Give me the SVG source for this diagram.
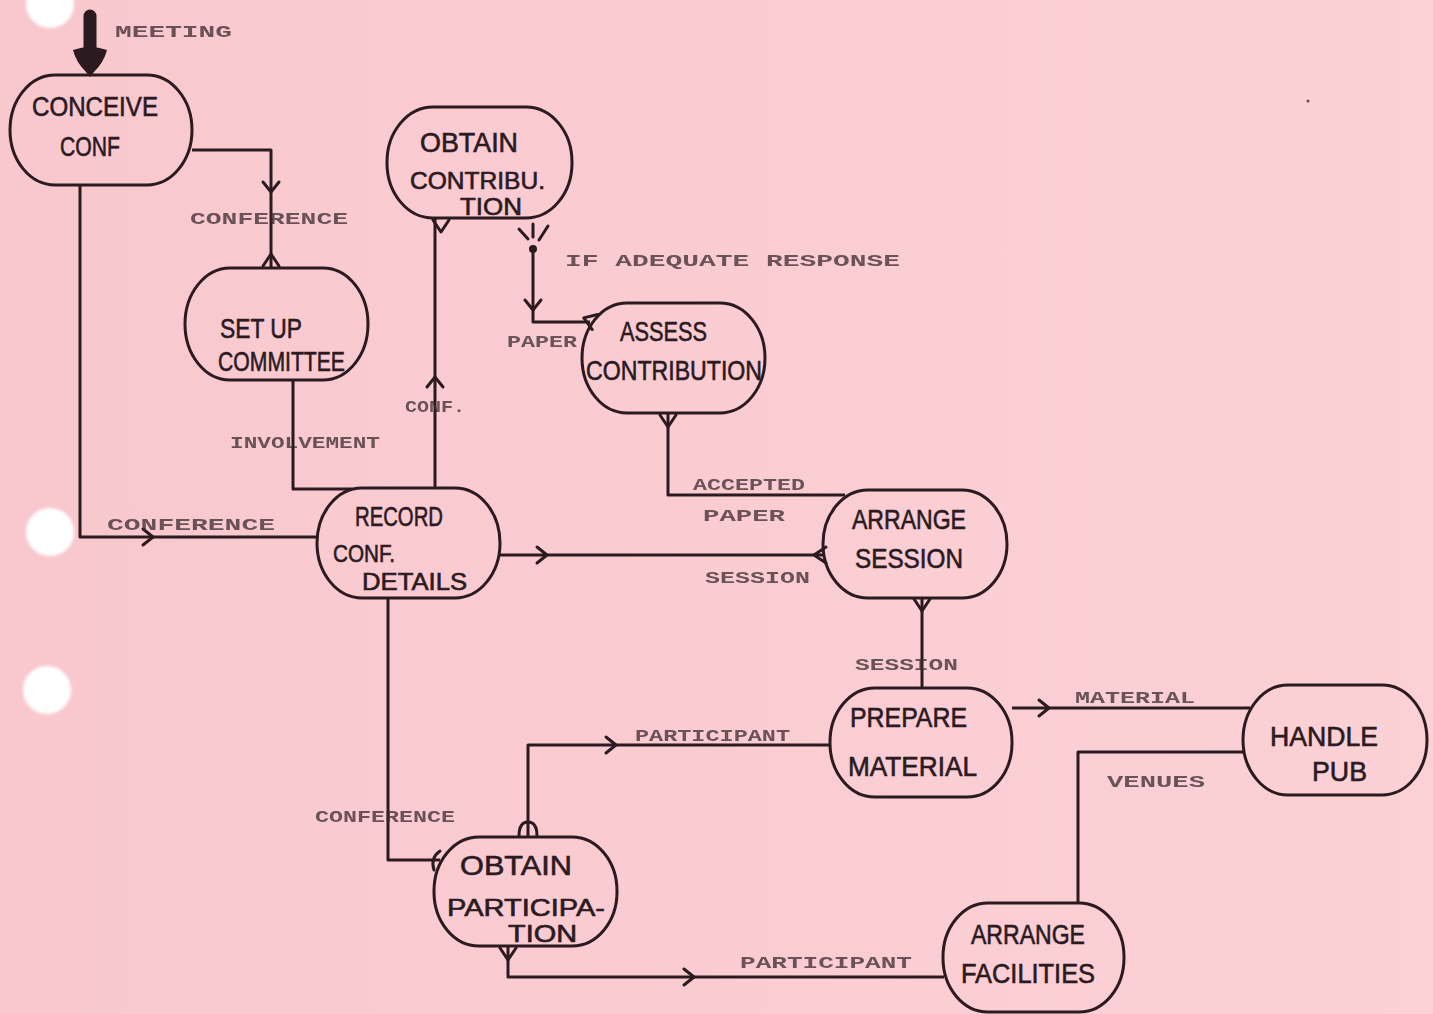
<svg xmlns="http://www.w3.org/2000/svg" width="1433" height="1014" viewBox="0 0 1433 1014">
  <style>
    .node rect { fill: none; stroke: #2b1a1f; stroke-width: 3; }
    .node text { font-family: "Liberation Sans", "DejaVu Sans", sans-serif; font-size: 27px; fill: #2b1a1f; stroke: #2b1a1f; stroke-width: 0.6; }
    .node text.sm { font-size: 23px; }
    .wire { fill: none; stroke: #2b1a1f; stroke-width: 3; stroke-linejoin: round; }
    .tip { fill: none; stroke: #2b1a1f; stroke-width: 3; stroke-linecap: round; stroke-linejoin: round; }
    .lbl { font-family: "Liberation Mono", "DejaVu Sans Mono", monospace; font-size: 17px; font-weight: bold; fill: #3a2a2f; opacity: 0.75; }
    .hole { fill: #ffffff; }
  </style>
  <defs>
    <linearGradient id="paper" x1="0" y1="0" x2="1" y2="0">
      <stop offset="0" stop-color="#f9c8cf"/>
      <stop offset="1" stop-color="#fbd1d6"/>
    </linearGradient>
    <filter id="soft" x="-20%" y="-20%" width="140%" height="140%">
      <feGaussianBlur stdDeviation="1.5"/>
    </filter>
    <!-- open arrowhead pointing along +x, tip at origin -->
    <path id="ah" d="M-10,-8 L0,0 L-10,8"/>
    <!-- port fork on a node boundary, opening toward the node (-x), point along +x -->
    <path id="fork" d="M0,-8 L12,0 L0,8"/>
  </defs>

  <!-- paper -->
  <rect width="1433" height="1014" fill="url(#paper)"/>
  <g filter="url(#soft)">
    <circle class="hole" cx="50" cy="4" r="24"/>
    <circle class="hole" cx="50" cy="532" r="24"/>
    <circle class="hole" cx="47" cy="690" r="24"/>
  </g>
  <circle cx="1308" cy="101" r="1.5" fill="#6a4a50"/>

  <!-- connectors -->
  <g id="connectors">
    <!-- meeting input -->
    <line x1="90" y1="16" x2="90" y2="56" stroke="#2b1a1f" stroke-width="13" stroke-linecap="round"/>
    <path d="M73,50 Q90,44 107,50 Q104,62 94,72 L90,77 L86,72 Q76,62 73,50 Z" fill="#2b1a1f"/>

    <!-- conceive -> set up committee -->
    <polyline class="wire" points="192,150 271,150 271,268"/>
    <use href="#ah" class="tip" transform="translate(271,192) rotate(90)"/>
    <use href="#fork" class="tip" transform="translate(271,266) rotate(-90)"/>

    <!-- conceive -> record conf details -->
    <polyline class="wire" points="80,185 80,537 318,537"/>
    <use href="#ah" class="tip" transform="translate(153,537)"/>

    <!-- set up committee -> record -->
    <polyline class="wire" points="293,380 293,489 352,489"/>

    <!-- record -> obtain contribution -->
    <line class="wire" x1="435" y1="488" x2="435" y2="218"/>
    <use href="#ah" class="tip" transform="translate(435,377) rotate(-90)"/>
    <use href="#fork" class="tip" transform="translate(441,220) rotate(90)"/>

    <!-- obtain contribution -> assess contribution -->
    <g class="tip">
      <line x1="519" y1="229" x2="528" y2="239"/>
      <line x1="533" y1="224" x2="533" y2="237"/>
      <line x1="548" y1="226" x2="539" y2="240"/>
    </g>
    <circle cx="533" cy="249" r="4" fill="#2b1a1f"/>
    <polyline class="wire" points="533,249 533,322 590,322"/>
    <use href="#ah" class="tip" transform="translate(533,310) rotate(90)"/>
    <use href="#fork" class="tip" transform="translate(595,322) rotate(200)"/>

    <!-- assess -> arrange session -->
    <polyline class="wire" points="668,413 668,495 845,495"/>
    <use href="#fork" class="tip" transform="translate(668,415) rotate(90)"/>

    <!-- record -> arrange session -->
    <line class="wire" x1="500" y1="555" x2="825" y2="555"/>
    <use href="#ah" class="tip" transform="translate(547,555)"/>
    <use href="#fork" class="tip" transform="translate(826,555) rotate(180)"/>

    <!-- arrange session -> prepare material -->
    <line class="wire" x1="922" y1="598" x2="922" y2="688"/>
    <use href="#fork" class="tip" transform="translate(922,599) rotate(90)"/>

    <!-- prepare material -> handle pub -->
    <line class="wire" x1="1012" y1="708" x2="1250" y2="708"/>
    <use href="#ah" class="tip" transform="translate(1049,708)"/>

    <!-- arrange facilities -> handle pub -->
    <polyline class="wire" points="1078,903 1078,752 1244,752"/>

    <!-- record -> obtain participation -->
    <polyline class="wire" points="388,598 388,860 440,860"/>
    <path class="tip" d="M440,851 Q430,858 434,870"/>

    <!-- obtain participation -> prepare material -->
    <polyline class="wire" points="528,837 528,745 830,745"/>
    <use href="#ah" class="tip" transform="translate(616,745)"/>
    <path class="tip" d="M519,836 Q519,822 528,822 Q537,822 537,836"/>

    <!-- obtain participation -> arrange facilities -->
    <polyline class="wire" points="508,946 508,977 944,977"/>
    <use href="#ah" class="tip" transform="translate(694,977)"/>
    <use href="#fork" class="tip" transform="translate(508,948) rotate(90)"/>
  </g>

  <!-- connector labels -->
  <g id="labels">
    <text class="lbl" x="115" y="37" textLength="117" lengthAdjust="spacingAndGlyphs">MEETING</text>
    <text class="lbl" x="190" y="224" textLength="158" lengthAdjust="spacingAndGlyphs">CONFERENCE</text>
    <text class="lbl" x="565" y="266" textLength="335" lengthAdjust="spacingAndGlyphs">IF ADEQUATE RESPONSE</text>
    <text class="lbl" x="507" y="347" textLength="70" lengthAdjust="spacingAndGlyphs">PAPER</text>
    <text class="lbl" x="230" y="448" textLength="150" lengthAdjust="spacingAndGlyphs">INVOLVEMENT</text>
    <text class="lbl" x="405" y="412" textLength="60" lengthAdjust="spacingAndGlyphs">CONF.</text>
    <text class="lbl" x="693" y="490" textLength="112" lengthAdjust="spacingAndGlyphs">ACCEPTED</text>
    <text class="lbl" x="703" y="521" textLength="82" lengthAdjust="spacingAndGlyphs">PAPER</text>
    <text class="lbl" x="107" y="530" textLength="168" lengthAdjust="spacingAndGlyphs">CONFERENCE</text>
    <text class="lbl" x="705" y="583" textLength="105" lengthAdjust="spacingAndGlyphs">SESSION</text>
    <text class="lbl" x="855" y="670" textLength="103" lengthAdjust="spacingAndGlyphs">SESSION</text>
    <text class="lbl" x="1075" y="703" textLength="120" lengthAdjust="spacingAndGlyphs">MATERIAL</text>
    <text class="lbl" x="635" y="741" textLength="155" lengthAdjust="spacingAndGlyphs">PARTICIPANT</text>
    <text class="lbl" x="1107" y="787" textLength="98" lengthAdjust="spacingAndGlyphs">VENUES</text>
    <text class="lbl" x="315" y="822" textLength="140" lengthAdjust="spacingAndGlyphs">CONFERENCE</text>
    <text class="lbl" x="740" y="968" textLength="172" lengthAdjust="spacingAndGlyphs">PARTICIPANT</text>
  </g>

  <!-- nodes -->
  <g id="conceive-conf" class="node">
    <rect x="10" y="75" width="182" height="110" rx="45" ry="55"/>
    <text x="32" y="116" textLength="126" lengthAdjust="spacingAndGlyphs">CONCEIVE</text>
    <text x="60" y="156" textLength="60" lengthAdjust="spacingAndGlyphs">CONF</text>
  </g>
  <g id="set-up-committee" class="node">
    <rect x="185" y="268" width="183" height="112" rx="45" ry="56"/>
    <text x="220" y="338" textLength="82" lengthAdjust="spacingAndGlyphs">SET UP</text>
    <text x="218" y="371" textLength="127" lengthAdjust="spacingAndGlyphs">COMMITTEE</text>
  </g>
  <g id="obtain-contribution" class="node">
    <rect x="387" y="107" width="185" height="111" rx="46" ry="55"/>
    <text x="420" y="152" textLength="98" lengthAdjust="spacingAndGlyphs">OBTAIN</text>
    <text class="sm" x="410" y="189" textLength="135" lengthAdjust="spacingAndGlyphs">CONTRIBU.</text>
    <text class="sm" x="460" y="215" textLength="62" lengthAdjust="spacingAndGlyphs">TION</text>
  </g>
  <g id="assess-contribution" class="node">
    <rect x="582" y="303" width="183" height="110" rx="45" ry="55"/>
    <text x="620" y="341" textLength="87" lengthAdjust="spacingAndGlyphs">ASSESS</text>
    <text x="586" y="380" textLength="176" lengthAdjust="spacingAndGlyphs">CONTRIBUTION</text>
  </g>
  <g id="record-conf-details" class="node">
    <rect x="317" y="488" width="183" height="110" rx="45" ry="55"/>
    <text x="355" y="526" textLength="88" lengthAdjust="spacingAndGlyphs">RECORD</text>
    <text class="sm" x="333" y="562" textLength="62" lengthAdjust="spacingAndGlyphs">CONF.</text>
    <text class="sm" x="362" y="590" textLength="105" lengthAdjust="spacingAndGlyphs">DETAILS</text>
  </g>
  <g id="arrange-session" class="node">
    <rect x="823" y="490" width="184" height="108" rx="45" ry="54"/>
    <text x="852" y="529" textLength="114" lengthAdjust="spacingAndGlyphs">ARRANGE</text>
    <text x="855" y="568" textLength="108" lengthAdjust="spacingAndGlyphs">SESSION</text>
  </g>
  <g id="prepare-material" class="node">
    <rect x="830" y="688" width="182" height="109" rx="45" ry="54"/>
    <text x="850" y="727" textLength="117" lengthAdjust="spacingAndGlyphs">PREPARE</text>
    <text x="848" y="776" textLength="129" lengthAdjust="spacingAndGlyphs">MATERIAL</text>
  </g>
  <g id="handle-pub" class="node">
    <rect x="1243" y="685" width="184" height="110" rx="45" ry="55"/>
    <text x="1270" y="746" textLength="108" lengthAdjust="spacingAndGlyphs">HANDLE</text>
    <text x="1312" y="781" textLength="55" lengthAdjust="spacingAndGlyphs">PUB</text>
  </g>
  <g id="obtain-participation" class="node">
    <rect x="434" y="837" width="183" height="109" rx="45" ry="54"/>
    <text x="460" y="875" textLength="112" lengthAdjust="spacingAndGlyphs">OBTAIN</text>
    <text class="sm" x="447" y="916" textLength="158" lengthAdjust="spacingAndGlyphs">PARTICIPA-</text>
    <text class="sm" x="508" y="942" textLength="69" lengthAdjust="spacingAndGlyphs">TION</text>
  </g>
  <g id="arrange-facilities" class="node">
    <rect x="943" y="903" width="181" height="109" rx="45" ry="54"/>
    <text x="971" y="944" textLength="114" lengthAdjust="spacingAndGlyphs">ARRANGE</text>
    <text x="961" y="983" textLength="134" lengthAdjust="spacingAndGlyphs">FACILITIES</text>
  </g>
</svg>
